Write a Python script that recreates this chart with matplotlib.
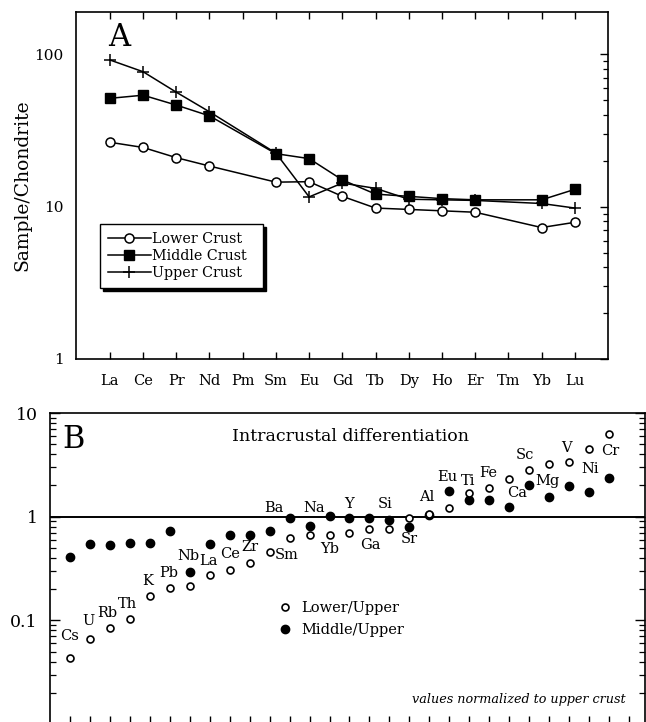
import numpy as np
import matplotlib
matplotlib.use("Agg")
import matplotlib.pyplot as plt
from matplotlib.ticker import FixedLocator, FixedFormatter, LogLocator, NullFormatter

plt.rcParams['font.family'] = ['DejaVu Serif']

# ---------------- Panel A data (chondrite-normalised REE) ----------------
ree = ['La', 'Ce', 'Pr', 'Nd', 'Pm', 'Sm', 'Eu', 'Gd', 'Tb', 'Dy', 'Ho', 'Er', 'Tm', 'Yb', 'Lu']
lower_crust = [26.5, 24.5, 21.0, 18.5, None, 14.5, 14.6, 11.7, 9.8, 9.6, 9.4, 9.2, None, 7.3, 7.9]
middle_crust = [51.5, 54.0, 46.5, 39.5, None, 22.3, 20.7, 15.0, 12.1, 11.7, 11.3, 11.1, None, 11.1, 13.0]
upper_crust = [92.0, 77.0, 56.5, 42.0, None, 22.5, 11.6, 14.3, 13.2, 11.2, 11.1, 11.0, None, 10.5, 9.8]

# ---------------- Panel B data (normalised to upper crust) ----------------
elements = ['Cs', 'U', 'Rb', 'Th', 'K', 'Pb', 'Nb', 'La', 'Ce', 'Zr', 'Sm', 'Ba', 'Na', 'Yb',
            'Y', 'Ga', 'Si', 'Sr', 'Al', 'Eu', 'Ti', 'Fe', 'Ca', 'Sc', 'Mg', 'V', 'Ni', 'Cr']
lower_upper = [0.043, 0.066, 0.085, 0.103, 0.17, 0.205, 0.215, 0.275, 0.305, 0.355, 0.46, 0.62, 0.66, 0.67,
               0.70, 0.76, 0.76, 0.97, 1.05, 1.22, 1.68, 1.88, 2.3, 2.85, 3.2, 3.35, 4.5, 6.3]
middle_upper = [0.41, 0.55, 0.53, 0.56, 0.56, 0.73, 0.29, 0.54, 0.67, 0.66, 0.72, 0.98, 0.82, 1.02,
                0.98, 0.97, 0.92, 0.79, 1.04, 1.75, 1.44, 1.45, 1.23, 2.0, 1.55, 1.97, 1.72, 2.38]

# label offsets (pixels, relative to the Lower/Upper point; +y is up)
label_offsets = {
    'Cs': (0, 22), 'U': (-1, 18), 'Rb': (-3, 15), 'Th': (-2, 15), 'K': (-2, 15), 'Pb': (-1, 15),
    'Nb': (-1, 30), 'La': (-1, 14), 'Ce': (0, 16), 'Zr': (0, 16), 'Sm': (17, -3), 'Ba': (-16, 30),
    'Na': (5, 27), 'Yb': (0, -14), 'Y': (0, 29), 'Ga': (1, -16), 'Si': (-4, 25), 'Sr': (0, -21),
    'Al': (-3, 17), 'Eu': (-2, 31), 'Ti': (-1, 12), 'Fe': (-1, 15), 'Ca': (8, -14), 'Sc': (-4, 15),
    'Mg': (-2, -17), 'V': (-3, 14), 'Ni': (1, -20), 'Cr': (1, -17),
}

W, H = 646, 722
fig = plt.figure(figsize=(W / 100, H / 100), dpi=100)

# ================= Panel A =================
axA = fig.add_axes([76 / W, 1 - 359 / H, 532 / W, 347 / H])
xpos = np.arange(len(ree))


def valid(vals):
    idx = [i for i, v in enumerate(vals) if v is not None]
    return xpos[idx], [vals[i] for i in idx]


x, y = valid(lower_crust)
axA.plot(x, y, '-', color='black', lw=1.1, marker='o', ms=6.5, mfc='white', mec='black', mew=1.1,
         label='Lower Crust', zorder=3)
x, y = valid(middle_crust)
axA.plot(x, y, '-', color='black', lw=1.1, marker='s', ms=6.8, mfc='black', mec='black',
         label='Middle Crust', zorder=3)
x, y = valid(upper_crust)
axA.plot(x, y, '-', color='black', lw=1.1, marker='+', ms=8, mew=1.1, mec='black',
         label='Upper Crust', zorder=3)

axA.set_yscale('log')
axA.set_ylim(1, 190)
axA.set_xlim(-1.02, 15.0)
axA.yaxis.set_major_locator(FixedLocator([1, 10, 100]))
axA.yaxis.set_major_formatter(FixedFormatter(['1', '10', '100']))
axA.yaxis.set_minor_locator(LogLocator(base=10, subs=np.arange(2, 10)))
axA.yaxis.set_minor_formatter(NullFormatter())
axA.tick_params(axis='y', which='both', left=False, right=True, direction='in', labelsize=11, pad=9)
axA.tick_params(axis='y', which='major', length=6, width=1.0)
axA.tick_params(axis='y', which='minor', length=3.5, width=0.9)
axA.set_xticks(xpos)
axA.set_xticklabels(ree)
axA.tick_params(axis='x', which='both', top=True, bottom=True, direction='in', length=5, width=1.0,
                labelsize=10.5, pad=11)
axA.set_ylabel('Sample/Chondrite', fontsize=13.5, labelpad=2)
for s in axA.spines.values():
    s.set_linewidth(1.2)
axA.text(0.06, 0.97, 'A', transform=axA.transAxes, fontsize=22, va='top', ha='left')

legA = axA.legend(loc='upper left', bbox_to_anchor=(0.045, 0.189, 0.306, 0.2), mode='expand',
                  borderaxespad=0, fontsize=10.3, handlelength=3.0, handletextpad=0.1,
                  labelspacing=0.22, borderpad=0.55, fancybox=False, framealpha=1,
                  edgecolor='black',
                  shadow={'facecolor': 'black', 'edgecolor': 'black', 'alpha': 1})
legA.get_frame().set_linewidth(1.0)

# ================= Panel B =================
axB = fig.add_axes([50 / W, 1 - 724 / H, 595 / W, (724 - 413) / H])

xb = np.arange(len(elements))
axB.axhline(1.0, color='black', lw=1.4, zorder=1)
axB.plot(xb, lower_upper, 'o', ls='none', ms=5, mfc='white', mec='black', mew=1.2,
         label='Lower/Upper', zorder=3)
axB.plot(xb, middle_upper, 'o', ls='none', ms=6, mfc='black', mec='black',
         label='Middle/Upper', zorder=2)

for i, el in enumerate(elements):
    dx, dy = label_offsets[el]
    axB.annotate(el, (xb[i], lower_upper[i]), xytext=(dx, dy), textcoords='offset pixels',
                 ha='center', va='center', fontsize=10.5)

axB.set_yscale('log')
axB.set_ylim(0.01, 10)
axB.set_xlim(-1.0, 28.8)
axB.yaxis.set_major_locator(FixedLocator([0.01, 0.1, 1, 10]))
axB.yaxis.set_major_formatter(FixedFormatter(['', '0.1', '1', '10']))
axB.yaxis.set_minor_locator(LogLocator(base=10, subs=np.arange(2, 10)))
axB.yaxis.set_minor_formatter(NullFormatter())
axB.tick_params(axis='y', which='both', left=True, right=True, direction='in', labelsize=12.5, pad=9)
axB.tick_params(axis='y', which='major', length=7, width=1.0)
axB.tick_params(axis='y', which='minor', length=4, width=0.9)
axB.set_xticks(np.arange(len(elements) + 1))
axB.set_xticklabels([])
axB.tick_params(axis='x', which='both', top=False, bottom=True, direction='in', length=6, width=1.0)
for s in axB.spines.values():
    s.set_linewidth(1.2)

axB.text(0.02, 0.965, 'B', transform=axB.transAxes, fontsize=22, va='top', ha='left')
axB.text(0.505, 0.925, 'Intracrustal differentiation', transform=axB.transAxes, fontsize=12.5,
         ha='center', va='center')
axB.text(0.968, 0.08, 'values normalized to upper crust', transform=axB.transAxes, fontsize=9.2,
         style='italic', ha='right', va='center')
axB.legend(loc='upper left', bbox_to_anchor=((278 - 50) / 595, (724 - 601) / 311), borderaxespad=0,
           frameon=False, fontsize=10.5, handlelength=1.0, handletextpad=0.6, labelspacing=0.55,
           borderpad=0, numpoints=1)

fig.savefig('out.png', dpi=100)
